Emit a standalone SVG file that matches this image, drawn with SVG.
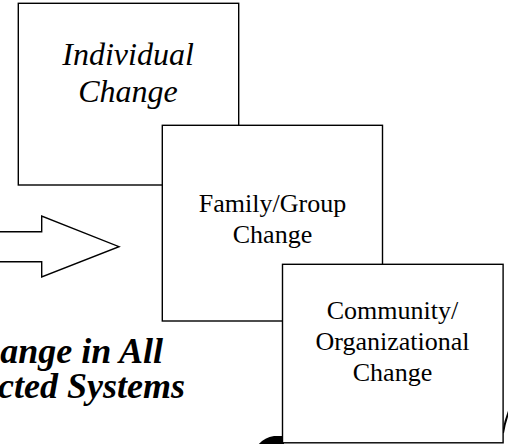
<svg xmlns="http://www.w3.org/2000/svg" width="508" height="444" viewBox="0 0 508 444">
<style>
.box{fill:#fff;stroke:#000;stroke-width:1.4}
text{fill:#000;font-family:'Liberation Serif','Times New Roman',serif}
.c{text-anchor:middle}
.it{font-style:italic;font-size:32px}
.rg{font-size:26px}
.bi{font-style:italic;font-weight:bold;font-size:36px;text-anchor:end}
</style>
<rect width="508" height="444" fill="#fff"/>
<g id="connectors">
<polygon points="-3,231.7 41.7,231.7 41.7,216 119,246.7 41.7,277 41.7,261.7 -3,261.7" fill="#fff" stroke="#000" stroke-width="1.4"/>
</g>
<g id="caption">
<text class="bi" x="163" y="363">ange in All</text>
<text class="bi" x="185" y="398">cted Systems</text>
</g>
<g id="fragments">
<path d="M258,445 Q264,437.5 274,436 L284,436 L284,445 Z" fill="#000"/>
<path d="M503,433 Q505,421 509,411" fill="none" stroke="#000" stroke-width="2"/>
</g>
<g id="individual">
<rect class="box" x="18.3" y="3.3" width="220.4" height="181.7"/>
<text class="c it" x="128" y="65">Individual</text>
<text class="c it" x="128" y="101.7">Change</text>
</g>
<g id="family">
<rect class="box" x="162.3" y="125.3" width="220.2" height="195.7"/>
<text class="c rg" x="272.5" y="212.3">Family/Group</text>
<text class="c rg" x="272.5" y="242.7">Change</text>
</g>
<g id="community">
<rect class="box" x="282.5" y="264.3" width="220.6" height="178.5"/>
<text class="c rg" x="392.5" y="319.3">Community/</text>
<text class="c rg" x="392.5" y="350">Organizational</text>
<text class="c rg" x="392.5" y="380.7">Change</text>
</g>
</svg>
